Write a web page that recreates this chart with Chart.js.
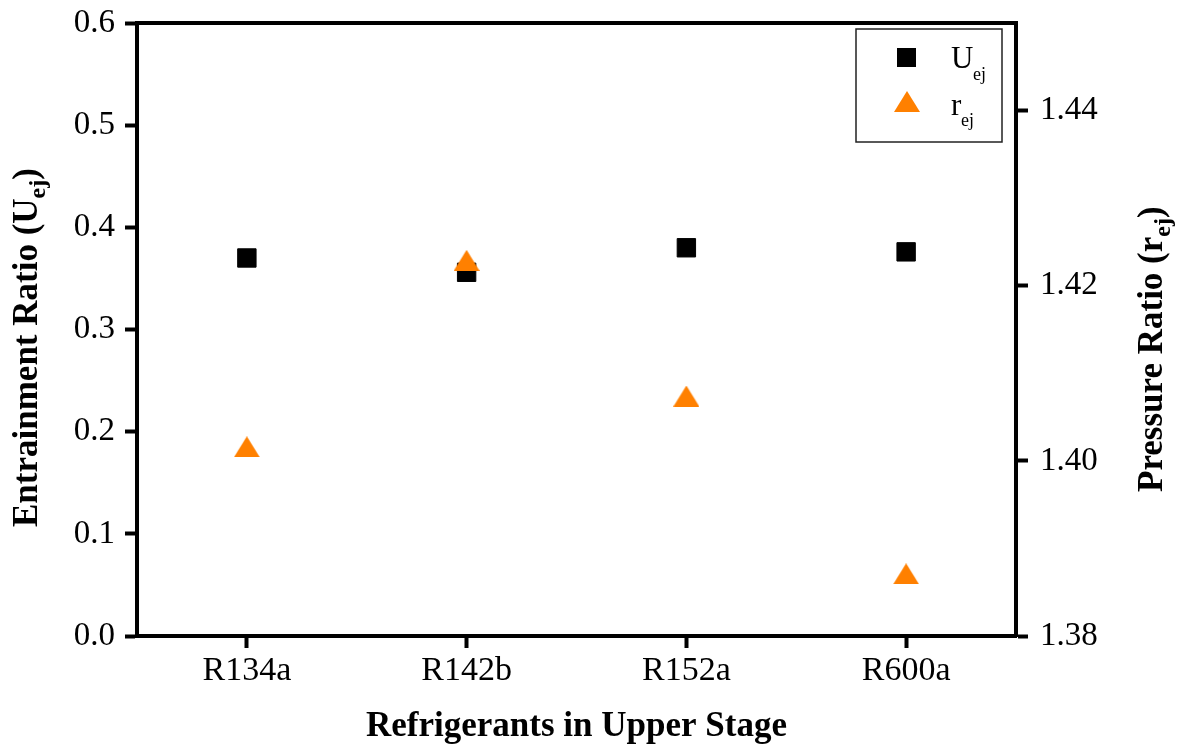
<!DOCTYPE html>
<html>
<head>
<meta charset="utf-8">
<script src="https://cdn.jsdelivr.net/npm/chart.js@4.4.0/dist/chart.umd.min.js"></script>
<style>
  html, body { margin: 0; padding: 0; background: #fff; }
  #wrap { width: 1200px; height: 749px; }
</style>
</head>
<body>
<div id="wrap"><canvas id="ejector"></canvas></div>
<script>
// refrigerants in the upper stage (x axis)
var refrigerants = ["R134a", "R142b", "R152a", "R600a"];
// entrainment ratio U_ej, left axis
var entrainment = [0.370, 0.356, 0.380, 0.376];
// pressure ratio r_ej, right axis
var pressureRatio = [1.4016, 1.4229, 1.4074, 1.3871];
// right axis tick values
var pressureTicks = [1.38, 1.40, 1.42, 1.44];

var FONT = "'Liberation Serif', 'Times New Roman', serif";
var ORANGE = 'rgb(255, 128, 0)';

// triangle marker as a small canvas so it is centred on its box, like the original
function triangleMarker(w, h, color) {
    var c = document.createElement('canvas');
    c.width = w;
    c.height = h;
    var g = c.getContext('2d');
    g.fillStyle = color;
    g.beginPath();
    g.moveTo(w / 2, 0);
    g.lineTo(w, h);
    g.lineTo(0, h);
    g.closePath();
    g.fill();
    return c;
}
var triangle = triangleMarker(26, 21, ORANGE);

// draws "head" + subscript + "tail" rotated, starting at (x, y) and reading upwards
function subTitle(ctx, head, sub, tail, x, y) {
    var big = 'bold 35px ' + FONT, small = 'bold 24px ' + FONT;
    ctx.save();
    ctx.translate(x, y);
    ctx.rotate(-Math.PI / 2);
    ctx.textAlign = 'left';
    ctx.textBaseline = 'alphabetic';
    ctx.font = big;
    var w1 = ctx.measureText(head).width;
    ctx.fillText(head, 0, 0);
    ctx.font = small;
    var w2 = ctx.measureText(sub).width;
    ctx.fillText(sub, w1, 8);
    ctx.font = big;
    ctx.fillText(tail, w1 + w2, 0);
    ctx.restore();
}

// y axes: fixed width, and no extra room above/below for tick labels
function fitY(width) {
    return function(scale) {
        scale.width = width;
        scale.paddingTop = 0;
        scale.paddingBottom = 0;
    };
}

var extras = {
    id: 'extras',
    afterDraw: function(chart) {
        var ctx = chart.ctx, a = chart.chartArea;
        ctx.save();
        // top of the frame
        ctx.strokeStyle = '#000';
        ctx.lineWidth = 4;
        ctx.beginPath();
        ctx.moveTo(a.left - 2, a.top);
        ctx.lineTo(a.right + 2, a.top);
        ctx.stroke();

        // x title
        ctx.fillStyle = '#000';
        ctx.font = 'bold 35px ' + FONT;
        ctx.textAlign = 'center';
        ctx.textBaseline = 'alphabetic';
        ctx.fillText('Refrigerants in Upper Stage', (a.left + a.right) / 2, 736);

        // y titles
        subTitle(ctx, 'Entrainment Ratio (U', 'ej', ')', 37, 527);
        subTitle(ctx, 'Pressure Ratio (r', 'ej', ')', 1162, 492);

        // legend box
        var lx = a.right - 160, ly = a.top + 6;
        ctx.fillStyle = '#fff';
        ctx.fillRect(lx, ly, 146, 113);
        ctx.strokeStyle = '#222';
        ctx.lineWidth = 1.5;
        ctx.strokeRect(lx, ly, 146, 113);

        // square marker
        ctx.fillStyle = '#000';
        ctx.fillRect(lx + 41, ly + 19, 19, 19);
        // triangle marker
        ctx.drawImage(triangle, lx + 38, ly + 62);

        ctx.fillStyle = '#000';
        ctx.textAlign = 'left';
        ctx.font = '31px ' + FONT;
        ctx.fillText('U', lx + 95, ly + 39);
        ctx.fillText('r', lx + 95, ly + 86);
        ctx.font = '18px ' + FONT;
        ctx.fillText('ej', lx + 117, ly + 51);
        ctx.fillText('ej', lx + 105, ly + 97);
        ctx.restore();
    }
};

var ctx = document.getElementById('ejector').getContext('2d');
var chart = new Chart(ctx, {
    type: 'line',
    data: {
        labels: refrigerants,
        datasets: [{
            label: 'Uej',
            data: entrainment,
            yAxisID: 'y',
            showLine: false,
            pointStyle: 'rect',
            pointRadius: 13,
            pointBorderWidth: 1,
            backgroundColor: '#000',
            borderColor: '#000',
            order: 1
        }, {
            label: 'rej',
            data: pressureRatio,
            yAxisID: 'y1',
            showLine: false,
            pointStyle: triangle,
            pointRadius: 14,
            backgroundColor: ORANGE,
            borderColor: ORANGE,
            order: 0
        }]
    },
    options: {
        responsive: true,
        maintainAspectRatio: false,
        animation: false,
        layout: { padding: { top: 23, left: 0, right: 0, bottom: 0 } },
        plugins: {
            legend: { display: false },
            tooltip: { enabled: false }
        },
        scales: {
            x: {
                offset: true,
                grid: { display: true, offset: false, drawOnChartArea: false, tickLength: 12, tickWidth: 4, tickColor: '#000' },
                border: { display: true, width: 4, color: '#000' },
                ticks: { color: '#000', padding: 3, font: { family: FONT, size: 34 }, maxRotation: 0 },
                afterFit: function(scale) { scale.height = 113; }
            },
            y: {
                position: 'left',
                min: 0,
                max: 0.6,
                grid: { display: true, drawOnChartArea: false, tickLength: 12, tickWidth: 4, tickColor: '#000' },
                border: { display: true, width: 4, color: '#000' },
                ticks: {
                    stepSize: 0.1,
                    color: '#000',
                    padding: 10,
                    font: { family: FONT, size: 33 },
                    callback: function(v) { return v.toFixed(1); }
                },
                afterFit: fitY(137)
            },
            y1: {
                position: 'right',
                min: 1.38,
                max: 1.45,
                grid: { display: true, drawOnChartArea: false, tickLength: 12, tickWidth: 4, tickColor: '#000' },
                border: { display: true, width: 4, color: '#000' },
                ticks: {
                    color: '#000',
                    padding: 12,
                    font: { family: FONT, size: 33 },
                    callback: function(v) { return v.toFixed(2); }
                },
                afterBuildTicks: function(scale) {
                    scale.ticks = pressureTicks.map(function(v) { return { value: v }; });
                },
                afterFit: fitY(184)
            }
        }
    },
    plugins: [extras]
});
</script>
</body>
</html>
